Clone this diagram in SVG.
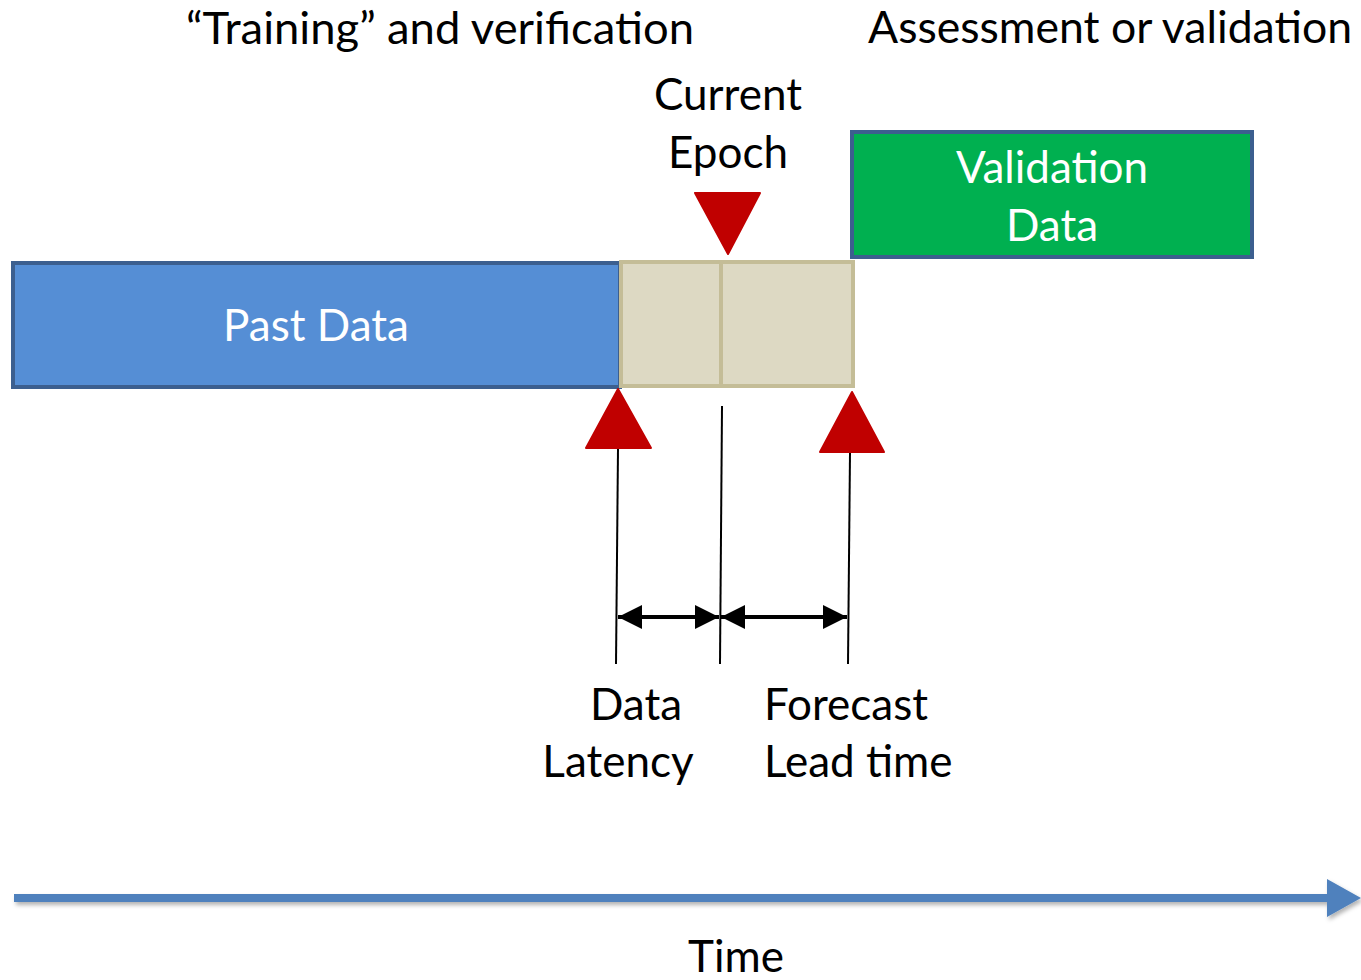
<svg xmlns="http://www.w3.org/2000/svg" width="1361" height="980" viewBox="0 0 1361 980">
<defs>
<style>
text{font-family:Lato,"Open Sans","Liberation Sans",sans-serif;font-size:44px;fill:#000}
.w{fill:#fff}
.c{text-anchor:middle}
.red{fill:#C00000;stroke:#C00000;stroke-width:2;stroke-linejoin:round}
.ln{stroke:#000;stroke-width:2;fill:none}
.dim{stroke:#000;stroke-width:4;fill:none}
</style>
<marker id="ah" viewBox="0 0 24 24" refX="24" refY="12" markerWidth="24" markerHeight="24" markerUnits="userSpaceOnUse" orient="auto-start-reverse">
<path d="M0,0 L24,12 L0,24 Z" fill="#000"/>
</marker>
<filter id="sh" x="-5%" y="-50%" width="110%" height="200%">
<feDropShadow dx="2" dy="3" stdDeviation="2" flood-color="#000" flood-opacity="0.3"/>
</filter>
</defs>
<rect width="1361" height="980" fill="#fff"/>
<text x="186" y="44" textLength="508" lengthAdjust="spacingAndGlyphs">“Training” and verification</text>
<text x="868" y="43" textLength="484" lengthAdjust="spacingAndGlyphs">Assessment or validation</text>
<g id="past-data">
<rect x="13" y="263" width="607" height="124" fill="#558ED5" stroke="#3C5F8F" stroke-width="4"/>
<text class="c w" x="316" y="341">Past Data</text>
</g>
<g id="current-window">
<rect x="621" y="262" width="232" height="124" fill="#DDD9C3" stroke="#C4BD97" stroke-width="4"/>
<line x1="721" y1="262" x2="721" y2="386" stroke="#C4BD97" stroke-width="4"/>
</g>
<g id="validation-data">
<rect x="852" y="132" width="400" height="125" fill="#00B050" stroke="#3C5F8F" stroke-width="4"/>
<text class="c w" x="1052" y="183">Validation</text>
<text class="c w" x="1052" y="241">Data</text>
</g>
<g id="current-epoch">
<text class="c" x="728" y="110">Current</text>
<text class="c" x="728" y="168">Epoch</text>
<polygon class="red" points="695,193 760,193 728,254"/>
</g>
<g id="connectors">
<polygon class="red" points="618,389 651,448 586,448"/>
<polygon class="red" points="852,392 884,452 820,452"/>
<line class="ln" x1="618" y1="449" x2="616" y2="664"/>
<line class="ln" x1="722" y1="406" x2="720" y2="664"/>
<line class="ln" x1="850" y1="453" x2="848" y2="664"/>
<line class="dim" x1="618" y1="617" x2="719" y2="617" marker-start="url(#ah)" marker-end="url(#ah)"/>
<line class="dim" x1="721" y1="617" x2="847" y2="617" marker-start="url(#ah)" marker-end="url(#ah)"/>
<g filter="url(#sh)">
<path d="M14,894 H1327 V879 L1361,898 L1327,917 V902 H14 Z" fill="#4F81BD"/>
</g>
</g>
<g id="labels">
<text class="c" x="636" y="720">Data</text>
<text class="c" x="618" y="777">Latency</text>
<text x="764" y="720">Forecast</text>
<text x="764" y="777">Lead time</text>
<text class="c" x="736" y="972">Time</text>
</g>
</svg>
